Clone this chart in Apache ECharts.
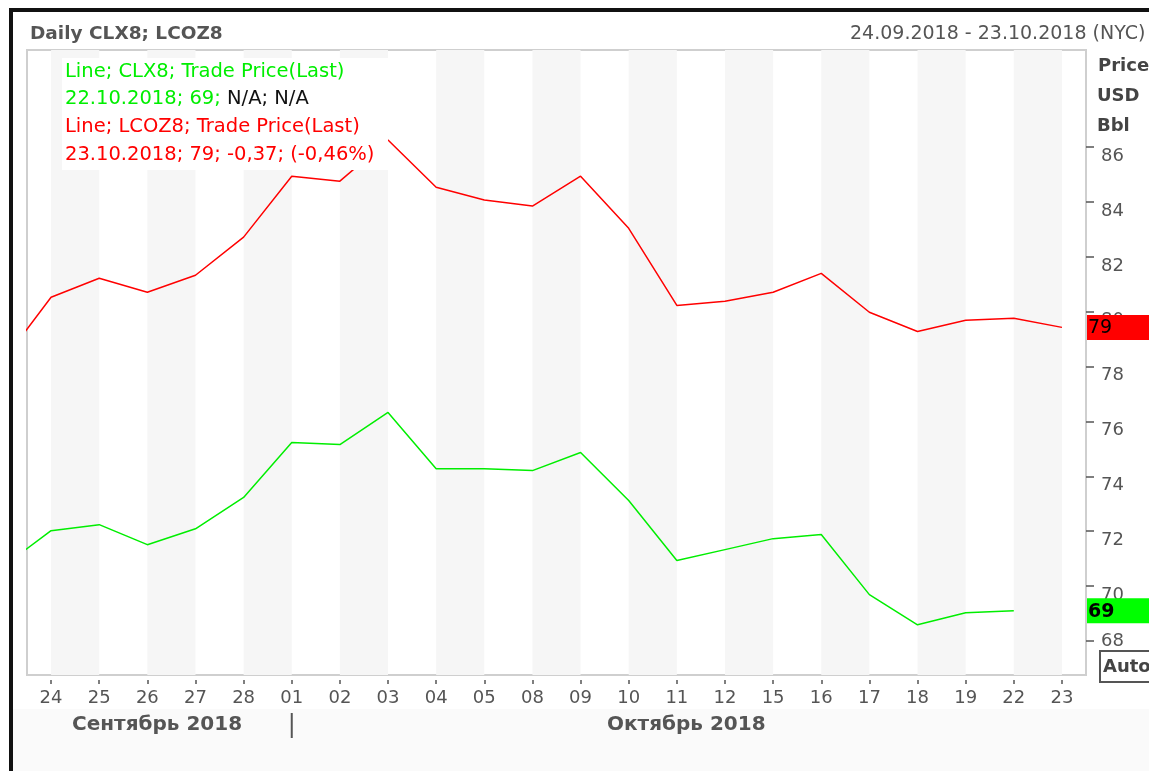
<!DOCTYPE html>
<html>
<head>
<meta charset="utf-8">
<script src="https://cdn.jsdelivr.net/npm/echarts@6/dist/echarts.min.js"></script>
<style>
  html, body { margin: 0; padding: 0; background: #fff; }
  #main { width: 1149px; height: 771px; }
</style>
</head>
<body>
<div id="main"></div>
<script>
// торговые дни (первый — 21.09, виден только кусок линии у левого края)
var dates = ['21', '24', '25', '26', '27', '28', '01', '02', '03', '04', '05', '08', '09', '10', '11', '12', '15', '16', '17', '18', '19', '22', '23'];
var lcozValues = [78.2, 80.53, 81.22, 80.71, 81.33, 82.72, 84.94, 84.76, 86.26, 84.54, 84.07, 83.85, 84.94, 83.04, 80.23, 80.38, 80.71, 81.40, 79.98, 79.28, 79.69, 79.76, 79.43]; // LCOZ8
var clxValues = [70.71, 72.02, 72.24, 71.51, 72.09, 73.23, 75.23, 75.16, 76.33, 74.28, 74.28, 74.21, 74.87, 73.12, 70.93, 71.33, 71.73, 71.88, 69.69, 68.59, 69.03, 69.10, null]; // CLX8
var yTicks = [68, 70, 72, 74, 76, 78, 80, 82, 84, 86];
var monthLabels = ['Сентябрь 2018', 'Октябрь 2018'];
var legendLines = ['Line; CLX8; Trade Price(Last)', '22.10.2018; 69; ', 'N/A; N/A', 'Line; LCOZ8; Trade Price(Last)', '23.10.2018; 79; -0,37; (-0,46%)'];

var FONT = 'DejaVu Sans';
var txtColor = '#555';
var green = '#00ee00';
var red = '#ff0000';

var chart = echarts.init(document.getElementById('main'));

function toPoints(arr) {
  return arr.map(function (v, i) { return [i, v]; });
}

// серые полосы между подписями: 24-25, 26-27, ...
var stripes = [];
for (var i = 1; i < dates.length - 1; i += 2) {
  stripes.push([{ xAxis: i }, { xAxis: i + 1 }]);
}

function lastValue(arr) {
  for (var k = arr.length - 1; k >= 0; k--) if (arr[k] != null) return arr[k];
}

var option = {
  backgroundColor: '#fff',
  animation: false,
  grid: {
    left: 27,
    right: 63,
    top: 50,
    bottom: 96,
    show: true,
    borderColor: '#cfcfcf',
    borderWidth: 2,
    backgroundColor: 'transparent'
  },
  xAxis: [{
    type: 'value',
    min: 0.5,
    max: dates.length - 0.5,
    show: false
  }, {
    type: 'category',
    data: dates.slice(1),
    boundaryGap: true,
    position: 'bottom',
    offset: 5,
    axisLine: { show: false },
    axisTick: { show: true, alignWithLabel: true, length: 4, lineStyle: { color: txtColor, width: 1.5 } },
    axisLabel: { color: txtColor, fontFamily: FONT, fontSize: 18, margin: 9 },
    splitLine: { show: false }
  }],
  yAxis: [{
    type: 'value',
    position: 'right',
    min: 66.76,
    max: 89.54,
    axisLine: { show: false },
    splitLine: { show: false },
    axisTick: {
      show: true,
      length: 8,
      customValues: yTicks,
      lineStyle: { color: txtColor, width: 1.5 }
    },
    axisLabel: {
      customValues: yTicks.slice(1),
      verticalAlign: 'top',
      margin: 15,
      color: txtColor,
      fontFamily: FONT,
      fontSize: 18
    }
  }, {
    // нижняя подпись 68 стоит чуть выше своей засечки
    type: 'value',
    position: 'right',
    min: 66.76,
    max: 89.54,
    axisLine: { show: false },
    splitLine: { show: false },
    axisTick: { show: false },
    axisLabel: {
      customValues: yTicks.slice(0, 1),
      verticalAlign: 'middle',
      padding: [0, 0, 10, 0],
      margin: 15,
      color: txtColor,
      fontFamily: FONT,
      fontSize: 18
    }
  }],
  series: [{
    type: 'line',
    name: 'stripes',
    data: [],
    z: 1,
    silent: true,
    markArea: {
      silent: true,
      itemStyle: { color: '#f6f6f6' },
      data: stripes
    }
  }, {
    type: 'line',
    name: 'LCOZ8',
    data: toPoints(lcozValues),
    symbol: 'none',
    z: 3,
    lineStyle: { color: red, width: 1.5 }
  }, {
    type: 'line',
    name: 'CLX8',
    data: toPoints(clxValues),
    symbol: 'none',
    z: 3,
    lineStyle: { color: green, width: 1.5 }
  }]
};
chart.setOption(option);

var sepX = chart.convertToPixel({ xAxisIndex: 0 }, dates.indexOf('01'));
var redLast = lastValue(lcozValues);
var greenLast = lastValue(clxValues);
var redY = chart.convertToPixel({ yAxisIndex: 0 }, redLast);
var greenY = chart.convertToPixel({ yAxisIndex: 0 }, greenLast);

function tag(y, value, bg, bold) {
  return [
    { type: 'rect', z: 55, shape: { x: 1087, y: y - 12.5, width: 70, height: 25 }, style: { fill: bg }, silent: true },
    { type: 'text', z: 56, x: 1088, y: y + 1, style: { text: String(Math.round(value)), font: (bold ? 'bold ' : '') + '19px ' + FONT, fill: '#000', verticalAlign: 'middle' } }
  ];
}

function txt(x, y, text, font, fill, z) {
  return { type: 'text', z: z || 50, x: x, y: y, style: { text: text, font: font, fill: fill, verticalAlign: 'middle' } };
}

var legendFont = '19.5px ' + FONT;

var graphics = [
  // нижняя серая полоса
  { type: 'rect', z: 0, shape: { x: 13, y: 709, width: 1140, height: 70 }, style: { fill: '#fafafa' }, silent: true },
  // чёрная рамка
  { type: 'rect', z: 50, shape: { x: 11, y: 10, width: 1300, height: 900 }, style: { fill: null, stroke: '#111', lineWidth: 4 }, silent: true },
  txt(30, 34, 'Daily CLX8; LCOZ8', 'bold 18.5px ' + FONT, txtColor),
  txt(850, 34, '24.09.2018 - 23.10.2018 (NYC)', '19px ' + FONT, txtColor),
  txt(1098, 66, 'Price', 'bold 18px ' + FONT, '#444'),
  txt(1097, 96, 'USD', 'bold 18px ' + FONT, '#444'),
  txt(1097, 126, 'Bbl', 'bold 18px ' + FONT, '#444'),
  // кнопка Auto
  { type: 'rect', z: 50, shape: { x: 1100, y: 651, width: 70, height: 31 }, style: { fill: '#fff', stroke: txtColor, lineWidth: 2 } },
  txt(1103, 667, 'Auto', 'bold 18px ' + FONT, '#444', 51),
  // месяцы
  txt(72, 725, monthLabels[0], 'bold 20px ' + FONT, txtColor),
  { type: 'line', z: 50, shape: { x1: sepX, y1: 713, x2: sepX, y2: 738 }, style: { stroke: txtColor, lineWidth: 2 } },
  txt(607, 725, monthLabels[1], 'bold 20px ' + FONT, txtColor),
  // легенда
  { type: 'rect', z: 60, shape: { x: 62, y: 58, width: 326, height: 112 }, style: { fill: '#fff' }, silent: true },
  txt(65, 72, legendLines[0], legendFont, green, 61),
  {
    type: 'text', z: 61, x: 65, y: 99,
    style: {
      text: '{g|' + legendLines[1] + '}{k|' + legendLines[2] + '}',
      font: legendFont,
      verticalAlign: 'middle',
      rich: {
        g: { fill: green, font: legendFont },
        k: { fill: '#111', font: legendFont }
      }
    }
  },
  txt(65, 127, legendLines[3], legendFont, red, 61),
  txt(65, 155, legendLines[4], legendFont, red, 61)
];
graphics = graphics.concat(tag(redY, redLast, red, false), tag(greenY, greenLast, '#00ff00', true));

chart.setOption({ graphic: graphics });
</script>
</body>
</html>
